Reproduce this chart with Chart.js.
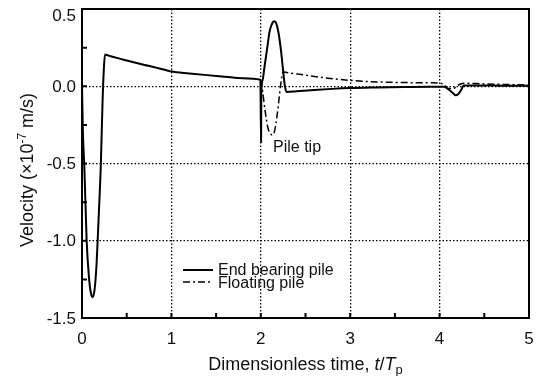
<!DOCTYPE html>
<html>
<head>
<meta charset="utf-8">
<script src="https://cdn.jsdelivr.net/npm/chart.js@4/dist/chart.umd.min.js"></script>
<style>
  html, body { margin: 0; padding: 0; background: #fff; }
  #wrap { width: 540px; height: 376px; }
</style>
</head>
<body>
<div id="wrap"><canvas id="vel"></canvas></div>
<script>
var FONT = "'Liberation Sans', Arial, sans-serif"

// end bearing pile (solid)
var endT = [0, 0.01, 0.026, 0.052, 0.08, 0.1, 0.12, 0.14, 0.16, 0.175,
  0.19, 0.21, 0.23, 0.245, 0.257, 0.3, 0.4, 0.5, 0.6, 0.7,
  0.8, 0.9, 1.0, 1.2, 1.4, 1.6, 1.8, 1.995, 2.003, 2.006,
  2.02, 2.04, 2.07, 2.1, 2.13, 2.15, 2.17, 2.2, 2.226, 2.25,
  2.27, 2.29, 2.4, 2.6, 2.8, 3.0, 3.3, 3.6, 3.9, 4.05,
  4.1, 4.15, 4.18, 4.21, 4.24, 4.27, 4.4, 4.7, 5.0]
var endV = [0, -0.3, -0.52, -1.0, -1.25, -1.34, -1.365, -1.32, -1.18, -1.0,
  -0.8, -0.52, -0.1, 0.12, 0.205, 0.198, 0.182, 0.167, 0.152, 0.138,
  0.125, 0.11, 0.095, 0.083, 0.072, 0.062, 0.052, 0.042, -0.36, -0.04,
  0.04, 0.12, 0.24, 0.36, 0.41, 0.42, 0.41, 0.34, 0.23, 0.1,
  0.0, -0.037, -0.032, -0.024, -0.017, -0.012, -0.008, -0.005, -0.003, -0.004,
  -0.02, -0.045, -0.058, -0.05, -0.025, 0.005, 0.005, 0.004, 0.003]

// floating pile (dash-dot), same as above until the tip reflection at t=2
var floatT = [2.0, 2.02, 2.047, 2.08, 2.11, 2.13, 2.15, 2.19, 2.22, 2.25,
  2.3, 2.5, 2.75, 3.0, 3.3, 3.6, 3.9, 4.0, 4.05, 4.1,
  4.15, 4.2, 4.27, 4.5, 5.0]
var floatV = [0.04, -0.03, -0.155, -0.27, -0.31, -0.315, -0.3, -0.155, 0.0, 0.093,
  0.088, 0.072, 0.052, 0.038, 0.028, 0.024, 0.022, 0.02, 0.01, -0.015,
  -0.015, 0.005, 0.02, 0.015, 0.008]

var xTicks = [0, 1, 2, 3, 4, 5]
var yTicks = [-1.5, -1.0, -0.5, 0.0, 0.5]
var seriesNames = ["End bearing pile", "Floating pile"]

function pts(t, v) {
  var out = []
  for (var i = 0; i < t.length; i++) out.push({x: t[i], y: v[i]})
  return out
}

var DASHDOT = [7, 3, 2, 3]

// draws text pieces one after another: [text, fontstyle, size, dy]
function richText(ctx, parts, cx, y) {
  var w = 0
  parts.forEach(function (p) {
    ctx.font = p[1] + " " + p[2] + "px " + FONT
    w += ctx.measureText(p[0]).width
  })
  var x = cx - w / 2
  parts.forEach(function (p) {
    ctx.font = p[1] + " " + p[2] + "px " + FONT
    ctx.fillText(p[0], x, y + p[3])
    x += ctx.measureText(p[0]).width
  })
}

var decor = {
  id: "decor",
  afterDraw: function (chart) {
    var ctx = chart.ctx
    var a = chart.chartArea
    var xs = chart.scales.x, ys = chart.scales.y
    ctx.save()
    ctx.strokeStyle = "#000"
    ctx.lineWidth = 2
    ctx.setLineDash([])
    // inward ticks
    ctx.beginPath()
    for (var t = 0.5; t < 5; t += 0.5) {
      var px = xs.getPixelForValue(t)
      ctx.moveTo(px, a.bottom)
      ctx.lineTo(px, a.bottom - 5)
    }
    for (var v = -1.25; v < 0.5; v += 0.25) {
      var py = ys.getPixelForValue(v)
      ctx.moveTo(a.left, py)
      ctx.lineTo(a.left + 5, py)
    }
    ctx.stroke()
    // frame
    ctx.strokeRect(a.left, a.top, a.right - a.left, a.bottom - a.top)

    ctx.fillStyle = "#111"
    // y tick labels (top one kept inside the picture)
    ctx.font = "17px " + FONT
    ctx.textAlign = "right"
    ctx.textBaseline = "middle"
    yTicks.forEach(function (v) {
      var y = Math.max(ys.getPixelForValue(v), 15)
      ctx.fillText(v.toFixed(1), a.left - 6, y + 1)
    })

    // legend
    ctx.lineWidth = 2
    ctx.beginPath()
    ctx.moveTo(183, 270); ctx.lineTo(213, 270)
    ctx.stroke()
    ctx.lineWidth = 1.5
    ctx.setLineDash(DASHDOT)
    ctx.beginPath()
    ctx.moveTo(183, 282); ctx.lineTo(213, 282)
    ctx.stroke()
    ctx.setLineDash([])
    ctx.font = "16px " + FONT
    ctx.textAlign = "left"
    ctx.fillText(seriesNames[0], 218, 271)
    ctx.fillText(seriesNames[1], 218, 284)

    // annotation
    ctx.fillText("Pile tip", 273, 148)

    // axis titles
    ctx.textBaseline = "alphabetic"
    richText(ctx, [["Dimensionless time, ", "", 18, 0], ["t", "italic", 18, 0],
      ["/", "", 18, 0], ["T", "italic", 18, 0], ["p", "", 13, 4]],
      (a.left + a.right) / 2, 370)
    ctx.translate(33, 170)
    ctx.rotate(-Math.PI / 2)
    richText(ctx, [["Velocity (\u00d710", "", 18, 0], ["-7", "", 12, -7],
      [" m/s)", "", 18, 0]], 0, 0)
    ctx.restore()
  }
}

var ctx = document.getElementById("vel")
var velChart = new Chart(ctx, {
  type: "line",
  data: {
    datasets: [{
      label: seriesNames[0],
      data: pts(endT, endV),
      borderColor: "#000",
      borderWidth: 2,
      pointRadius: 0,
      fill: false,
      cubicInterpolationMode: "monotone"
    }, {
      label: seriesNames[1],
      data: pts(floatT, floatV),
      borderColor: "#000",
      borderWidth: 1.5,
      borderDash: DASHDOT,
      pointRadius: 0,
      fill: false,
      cubicInterpolationMode: "monotone"
    }]
  },
  options: {
    responsive: true,
    maintainAspectRatio: false,
    animation: false,
    layout: { padding: { left: 0, top: 9, right: 11, bottom: 0 } },
    plugins: { legend: { display: false }, tooltip: { enabled: false } },
    scales: {
      x: {
        type: "linear",
        min: 0, max: 5,
        afterFit: function (s) {
          s.height = 58
          s.paddingLeft = 0
          s.paddingRight = 0
        },
        afterBuildTicks: function (s) { s.ticks = xTicks.map(function (v) { return {value: v} }) },
        grid: { color: "#000", lineWidth: 1.3, drawTicks: false },
        border: { display: false, dash: [1.5, 2] },
        ticks: { padding: 11, color: "#111", font: { size: 17, family: FONT } }
      },
      y: {
        min: -1.5, max: 0.5,
        afterFit: function (s) {
          s.width = 82
          s.paddingTop = 0
          s.paddingBottom = 0
        },
        afterBuildTicks: function (s) { s.ticks = yTicks.map(function (v) { return {value: v} }) },
        grid: { color: "#000", lineWidth: 1.3, drawTicks: false },
        border: { display: false, dash: [1.5, 2] },
        ticks: { display: false }
      }
    }
  },
  plugins: [decor]
})
</script>
</body>
</html>
